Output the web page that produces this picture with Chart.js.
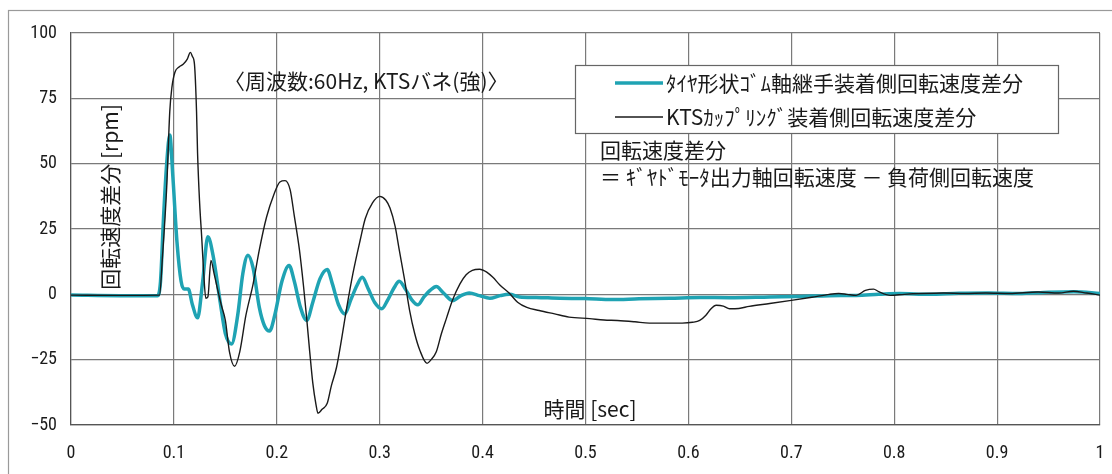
<!DOCTYPE html>
<html>
<head>
<meta charset="utf-8">
<script src="https://cdn.jsdelivr.net/npm/chart.js@4/dist/chart.umd.min.js"></script>
<style>
  body { margin: 0; background: #fff; }
  #wrap { width: 1112px; height: 474px; }
</style>
</head>
<body>
<div id="wrap"><canvas id="grafico" width="1112" height="474"></canvas></div>
<script>
// ---- dados (tempo em s, diferença em rpm) ----
const tempoBorracha = [0, 0.048, 0.084, 0.087, 0.090, 0.093, 0.096, 0.099, 0.103, 0.107, 0.110, 0.114, 0.118, 0.123,
  0.128, 0.133, 0.138, 0.145, 0.150, 0.156, 0.162, 0.167, 0.172, 0.177, 0.183, 0.188, 0.193, 0.198, 0.205, 0.212,
  0.217, 0.223, 0.229, 0.235, 0.242, 0.249, 0.254, 0.260, 0.266, 0.272, 0.278, 0.283, 0.289, 0.295, 0.302, 0.308,
  0.314, 0.319, 0.325, 0.331, 0.337, 0.343, 0.349, 0.355, 0.362, 0.371, 0.379, 0.387, 0.397, 0.407, 0.417, 0.426,
  0.436, 0.452, 0.475, 0.499, 0.526, 0.552, 0.582, 0.611, 0.640, 0.679, 0.708, 0.737, 0.763, 0.785, 0.805, 0.834,
  0.863, 0.892, 0.921, 0.950, 0.975, 1.0];
const difBorracha = [-0.3, -0.5, -0.5, 5, 30, 50, 61, 45, 20, 5, 2, 2, -4, -9,
  5, 22, 15, -3, -15, -19, -8, 8, 15, 10, -5, -12, -14, -8, 5, 11,
  5, -5, -10, -3, 6, 9.5, 4, -4, -7.5, -2, 3.5, 6.5, 2, -3, -5.5, -2,
  2.5, 5, 2, -2, -4, -1, 1.5, 3, 0.5, -2.4, -0.5, 0.5, -0.5, -1.5, -0.5, 0,
  -1, -1.2, -1.5, -1.6, -2, -1.7, -1.5, -1.2, -1.3, -1, -0.8, -0.5, -0.4, 0, 0.3, 0,
  0.4, 0.5, 0.3, 0.8, 1, 0.3];

const tempoKTS = [0, 0.048, 0.086, 0.089, 0.093, 0.096, 0.098, 0.101, 0.105, 0.109, 0.113, 0.116, 0.118, 0.120,
  0.122, 0.123, 0.125, 0.127, 0.129, 0.131, 0.133, 0.136, 0.139, 0.142, 0.146, 0.150, 0.154, 0.159, 0.164, 0.170,
  0.177, 0.183, 0.190, 0.197, 0.203, 0.208, 0.213, 0.217, 0.222, 0.226, 0.229, 0.232, 0.235, 0.238, 0.240, 0.244,
  0.249, 0.253, 0.258, 0.263, 0.268, 0.274, 0.281, 0.286, 0.293, 0.300, 0.306, 0.310, 0.315, 0.319, 0.324, 0.329,
  0.334, 0.339, 0.346, 0.350, 0.355, 0.360, 0.365, 0.371, 0.378, 0.384, 0.390, 0.397, 0.404, 0.410, 0.417, 0.426,
  0.434, 0.443, 0.455, 0.470, 0.484, 0.504, 0.518, 0.531, 0.548, 0.562, 0.577, 0.594, 0.604, 0.611, 0.617, 0.622,
  0.627, 0.634, 0.640, 0.649, 0.659, 0.679, 0.700, 0.720, 0.737, 0.746, 0.754, 0.763, 0.772, 0.780, 0.785, 0.796,
  0.810, 0.826, 0.848, 0.868, 0.889, 0.912, 0.940, 0.960, 0.974, 0.987, 1.0];
const difKTS = [-0.3, -0.4, -0.3, 15, 41, 70, 79, 85, 87, 88, 90, 92.6, 91, 88,
  70, 54, 35, 22, 8, -1.5, -1, 13, 8, 2.7, -4, -10, -22, -27.5, -22, -8,
  4, 17, 29.5, 38, 43, 43.5, 40, 30, 17, 3, -9, -22, -34, -42, -45.5, -44,
  -41.7, -35, -28, -17, -5, 8, 20.7, 29, 35, 37.5, 36, 33, 26, 17, 6, -6,
  -15, -21.4, -26.4, -25, -22, -15, -9, -2, 4, 7.5, 9.2, 9.6, 8.5, 6.5, 3.5, 0.4,
  -3, -5, -6.2, -7.5, -8.7, -9.3, -9.8, -10, -10.5, -11, -11, -11, -10.7, -10, -8, -5.5,
  -4.2, -4.5, -5.5, -5.4, -4.6, -3.5, -2.3, -1.1, 0, 0.3, 0, -0.4, 1.5, 2, 1, -0.4,
  0, 0.3, 0.5, 0.3, 0.5, 0.3, 0.9, 0.5, 1.2, 0.5, -0.3];

const nomesSeries = ['ﾀｲﾔ形状ｺﾞﾑ軸継手装着側回転速度差分', 'KTSｶｯﾌﾟﾘﾝｸﾞ装着側回転速度差分'];
const coresSeries = ['#1fa3b3', '#1a1a1a'];

const fonteNum = '"Liberation Sans Narrow", "Roboto Condensed", "Liberation Sans", sans-serif';
const fonteJp = '"Noto Sans CJK JP", "Noto Sans", sans-serif';

const pontos = (xs, ys) => xs.map((x, i) => ({ x: x, y: ys[i] }));

// textos e legenda desenhados dentro da área do gráfico
const anotacoes = {
    id: 'anotacoes',
    beforeDraw(chart) {
        const c = chart.ctx;
        c.save();
        c.fillStyle = '#fff';
        c.fillRect(0, 0, chart.width, chart.height);
        c.strokeStyle = '#9a9a9a';
        c.lineWidth = 1.2;
        c.strokeRect(8.5, 10.5, 1200, 1000);
        c.restore();
    },
    afterDraw(chart) {
        const c = chart.ctx;
        c.save();
        c.fillStyle = '#1a1a1a';
        c.font = '21px ' + fonteJp;
        c.textBaseline = 'middle';

        // título do eixo y (vertical, dentro do gráfico)
        c.save();
        c.translate(110, 197);
        c.rotate(-Math.PI / 2);
        c.textAlign = 'center';
        c.fillText('回転速度差分 [rpm]', 0, 0);
        c.restore();

        // título do eixo x
        c.textAlign = 'center';
        c.fillText('時間 [sec]', 590, 409);

        // condição de ensaio
        c.textAlign = 'left';
        c.fillText('〈周波数:60Hz, KTSバネ(強)〉', 224, 81);

        // legenda
        c.fillStyle = '#fff';
        c.fillRect(575, 65, 483, 68);
        c.strokeStyle = '#666';
        c.lineWidth = 1.2;
        c.strokeRect(575.5, 65.5, 483, 68);
        const linhasLeg = [83, 117];
        linhasLeg.forEach((y, i) => {
            c.strokeStyle = coresSeries[i];
            c.lineWidth = i === 0 ? 3.5 : 1.5;
            c.beginPath();
            c.moveTo(615, y);
            c.lineTo(663, y);
            c.stroke();
            c.fillStyle = '#1a1a1a';
            c.fillText(nomesSeries[i], 666, y);
        });

        // nota da definição
        c.fillText('回転速度差分', 600, 150);
        c.fillText('＝ ｷﾞﾔﾄﾞﾓｰﾀ出力軸回転速度 － 負荷側回転速度', 600, 177);
        c.restore();
    }
};

new Chart(document.getElementById('grafico').getContext('2d'), {
    type: 'line',
    data: {
        datasets: [{
            label: nomesSeries[1],
            data: pontos(tempoKTS, difKTS),
            borderColor: coresSeries[1],
            borderWidth: 1.4,
            pointRadius: 0,
            fill: false,
            cubicInterpolationMode: 'monotone'
        }, {
            label: nomesSeries[0],
            data: pontos(tempoBorracha, difBorracha),
            borderColor: coresSeries[0],
            borderWidth: 3.5,
            pointRadius: 0,
            fill: false,
            cubicInterpolationMode: 'monotone'
        }]
    },
    options: {
        responsive: false,
        animation: false,
        layout: { padding: { left: 0, top: 33, right: 12, bottom: 0 } },
        plugins: {
            legend: { display: false },
            tooltip: { enabled: false }
        },
        scales: {
            x: {
                type: 'linear',
                min: 0,
                max: 1,
                afterFit: s => { s.height = 49; s.paddingLeft = 0; s.paddingRight = 0; },
                ticks: {
                    stepSize: 0.1,
                    padding: 18,
                    maxRotation: 0,
                    color: '#1a1a1a',
                    font: { family: fonteNum, size: 18 },
                    callback: v => String(Number(v.toFixed(1)))
                },
                grid: { color: '#7a7a7a', lineWidth: 1.2, drawTicks: false },
                border: { color: '#555', width: 1.2 }
            },
            y: {
                min: -50,
                max: 100,
                afterFit: s => { s.width = 71; s.paddingTop = 0; s.paddingBottom = 0; },
                ticks: {
                    stepSize: 25,
                    padding: 14,
                    color: '#1a1a1a',
                    font: { family: fonteNum, size: 18 },
                    callback: v => String(v).replace('-', '−')
                },
                grid: { color: '#7a7a7a', lineWidth: 1.2, drawTicks: false },
                border: { color: '#555', width: 1.2 }
            }
        }
    },
    plugins: [anotacoes]
});
</script>
</body>
</html>
